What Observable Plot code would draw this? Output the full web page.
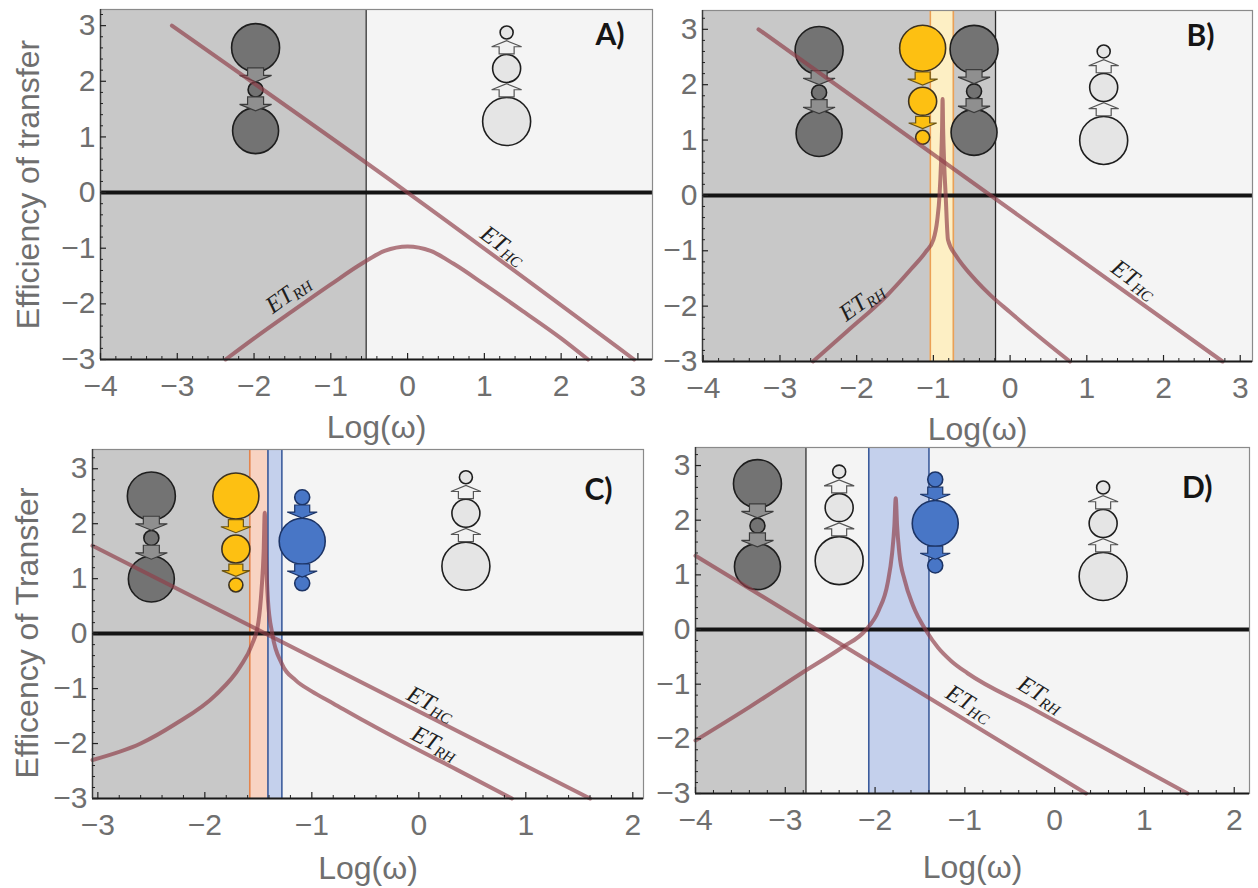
<!DOCTYPE html>
<html><head><meta charset="utf-8">
<script src="https://cdn.jsdelivr.net/npm/d3@7"></script>
<script src="https://cdn.jsdelivr.net/npm/@observablehq/plot@0.6"></script>
<style>
body{margin:0;background:#fff}
#wrap{position:relative;width:1258px;height:888px;overflow:hidden;background:#fff}
#wrap svg{position:absolute;overflow:visible}
</style>
</head><body><div id="wrap"></div>
<script>
// ---------- tick labels ----------
const xTicksAB = [-4, -3, -2, -1, 0, 1, 2, 3];
const xTicksC = [-3, -2, -1, 0, 1, 2];
const xTicksD = [-4, -3, -2, -1, 0, 1, 2];
const yTicks = [-3, -2, -1, 0, 1, 2, 3];
const panelLabels = ["A)", "B)", "C)", "D)"];
const yTitles = ["Efficiency of transfer", "", "Efficency of Transfer", ""];
const xTitle = "Log(\u03c9)";

// ---------- curves ----------
const aHC_x = [-3.07, 0.0, 2.95];
const aHC_y = [3.0, 0.0, -3.0];
const aRH_x = [-2.37, -2.0, -1.5, -1.0, -0.6, -0.3, 0.0, 0.3, 0.6, 1.0, 1.5, 2.0, 2.35];
const aRH_y = [-3.0, -2.62, -2.13, -1.65, -1.28, -1.05, -0.97, -1.05, -1.28, -1.65, -2.13, -2.62, -3.0];

const bHC_x = [-3.28, 2.77];
const bHC_y = [3.0, -3.0];
const bRH_x = [-2.57, -2.12, -1.6, -1.29, -1.1, -1.0, -0.95, -0.92, -0.9, -0.887, -0.88, -0.873, -0.86, -0.84, -0.81, -0.7, -0.6, -0.45, -0.25, 0.0, 0.28, 0.78];
const bRH_y = [-3.0, -2.45, -1.8, -1.33, -1.02, -0.8, -0.45, 0.0, 0.6, 1.2, 1.74, 1.2, 0.6, 0.0, -0.8, -1.1, -1.29, -1.53, -1.81, -2.11, -2.44, -3.0];

const cHC_x = [-3.05, 1.6];
const cHC_y = [1.6, -3.0];
const cRH_x = [-3.05, -2.6, -2.28, -1.9, -1.67, -1.56, -1.5, -1.47, -1.45, -1.44, -1.43, -1.41, -1.37, -1.28, -1.15, -1.0, -0.8, -0.5, -0.07, 0.35, 0.87];
const cRH_y = [-2.3, -2.0, -1.65, -1.12, -0.6, -0.2, 0.2, 0.8, 1.5, 2.2, 1.5, 0.6, 0.0, -0.55, -0.85, -1.05, -1.27, -1.6, -2.05, -2.47, -3.0];

const dHC_x = [-4.0, 0.35];
const dHC_y = [1.35, -3.0];
const dRH_x = [-4.0, -3.4, -2.82, -2.36, -2.11, -1.96, -1.86, -1.81, -1.785, -1.77, -1.755, -1.73, -1.67, -1.58, -1.42, -1.3, -1.15, -0.97, -0.29, 0.61, 1.48];
const dRH_y = [-2.03, -1.42, -0.8, -0.32, -0.02, 0.35, 0.85, 1.4, 1.9, 2.4, 1.9, 1.4, 0.9, 0.45, -0.05, -0.33, -0.58, -0.8, -1.41, -2.22, -3.0];

// ---------- regions & bands ----------
const grayLimit = [-0.54, -0.19, -1.58, -2.77];     // end of dark region per panel
const bandPanel = ["B", "C", "C", "D"];
const bandLo = [-1.04, -1.58, -1.41, -2.07];
const bandHi = [-0.74, -1.41, -1.28, -1.40];
const bandKind = ["yellow", "orange", "blue", "blue"];

// ---------- icons ----------
const iconPanel = ["A", "A", "B", "B", "B", "B", "C", "C", "C", "C", "D", "D", "D", "D"];
const iconType = ["dark", "light", "dark", "yellow", "dark", "light", "dark", "yellow", "blue", "light", "dark", "light", "blue", "light"];
const iconX = [-1.98, 1.29, -2.49, -1.14, -0.47, 1.22, -2.5, -1.71, -1.09, 0.44, -3.31, -2.4, -1.33, 0.54];
const iconY = [1.85, 2.23, 1.86, 1.70, 1.88, 1.95, 1.74, 1.54, 1.68, 2.19, 1.90, 2.23, 1.94, 1.94];

// ---------- ET labels ----------
const etPanel = ["A", "A", "B", "B", "C", "C", "D", "D"];
const etSub = ["RH", "HC", "RH", "HC", "HC", "RH", "RH", "HC"];
const etX = [-1.52, 1.28, -1.9, 1.65, 0.14, 0.18, -0.12, -0.92];
const etY = [-1.78, -0.98, -1.88, -1.55, -1.3, -2.02, -1.22, -1.38];
const etDir = [-1, 1, -1, 1, 1, 1, 1, 1];

// ================= drawing =================
const zip = (xs, ys) => xs.map((x, i) => ({x, y: ys[i]}));
const curves = {
  A: [zip(aHC_x, aHC_y), zip(aRH_x, aRH_y)],
  B: [zip(bHC_x, bHC_y), zip(bRH_x, bRH_y)],
  C: [zip(cHC_x, cHC_y), zip(cRH_x, cRH_y)],
  D: [zip(dHC_x, dHC_y), zip(dRH_x, dRH_y)]
};

const layout = {
  A: {left: 0, top: 0, width: 660, height: 445, ml: 100, mr: 8, mt: 9, mb: 86, xd: [-4, 3.19], yd: [-3, 3.29], xt: xTicksAB, titleDx: -72, titleDy: 0, logDy: 68, labDx: -28, labDy: 26, divider: true},
  B: {left: 640, top: 0, width: 618, height: 445, ml: 62, mr: 6, mt: 10, mb: 84, xd: [-4.01, 3.16], yd: [-3, 3.34], xt: xTicksAB, titleDx: 0, titleDy: 0, logDy: 68, labDx: -38, labDy: 26, divider: true},
  C: {left: 0, top: 445, width: 650, height: 443, ml: 92, mr: 7, mt: 4, mb: 90, xd: [-3.05, 2.10], yd: [-3, 3.35], xt: xTicksC, titleDx: -65, titleDy: 9, logDy: 70, labDx: -31, labDy: 41, divider: false},
  D: {left: 650, top: 445, width: 608, height: 443, ml: 45, mr: 9, mt: 2, mb: 95, xd: [-4.0, 2.17], yd: [-3, 3.33], xt: xTicksD, titleDx: 0, titleDy: 0, logDy: 74, labDx: -37, labDy: 41, divider: true}
};

const bandFill = {yellow: "#fdefc4", orange: "#f8d3c2", blue: "#c4d0ec"};
const bandEdge = {yellow: "#eba055", orange: "#e4844c", blue: "#3b5b9c"};
const iconStyle = {
  dark:   {fill: "#737373", stroke: "#1e1e1e", afill: "#8f8f8f", astroke: "#3c3c3c"},
  light:  {fill: "#e5e5e5", stroke: "#1e1e1e", afill: "#f1f1f1", astroke: "#555"},
  yellow: {fill: "#fdc012", stroke: "#3d3220", afill: "#fdc012", astroke: "#6b5415"},
  blue:   {fill: "#4876c6", stroke: "#1c3466", afill: "#4876c6", astroke: "#1c3466"}
};
const templates = {
  dark:   [{dy: -42, r: 24, s: "c"}, {dy: 0, r: 7.5, s: "c"}, {dy: 41, r: 23, s: "c"}, {dy: -15, r: 16, s: "d"}, {dy: 14, r: 16, s: "d"}],
  light:  [{dy: -36, r: 6.5, s: "c"}, {dy: 0, r: 14, s: "c"}, {dy: 53, r: 24, s: "c"}, {dy: -21, r: 15, s: "u"}, {dy: 22, r: 15, s: "u"}],
  yellow: [{dy: -53, r: 23, s: "c"}, {dy: 0, r: 14, s: "c"}, {dy: 36, r: 7, s: "c"}, {dy: -23, r: 15, s: "d"}, {dy: 21, r: 14, s: "d"}],
  blue:   [{dy: -44, r: 7.5, s: "c"}, {dy: 0, r: 23, s: "c"}, {dy: 42, r: 7.5, s: "c"}, {dy: -30, r: 15, s: "d"}, {dy: 29, r: 15, s: "d"}]
};
function arrowSymbol(dir) {
  return {
    draw(ctx, size) {
      const r = Math.sqrt(size / Math.PI);
      const k = dir; // 1 down, -1 up
      ctx.moveTo(-0.5 * r, -0.42 * r * k);
      ctx.lineTo(0.5 * r, -0.42 * r * k);
      ctx.lineTo(0.5 * r, 0.05 * r * k);
      ctx.lineTo(r, 0.05 * r * k);
      ctx.lineTo(0, 0.45 * r * k);
      ctx.lineTo(-r, 0.05 * r * k);
      ctx.lineTo(-0.5 * r, 0.05 * r * k);
      ctx.closePath();
    }
  };
}
const downArrow = arrowSymbol(1), upArrow = arrowSymbol(-1);
const fmt = d => d < 0 ? "\u2212" + Math.abs(d) : String(d);

const wrap = document.getElementById("wrap");
["A", "B", "C", "D"].forEach((id, pi) => {
  const L = layout[id];
  const [x0, x1] = L.xd, [y0, y1] = L.yd;
  const kX = (L.width - L.ml - L.mr) / (x1 - x0);
  const kY = (L.height - L.mt - L.mb) / (y1 - y0);
  const marks = [];
  // background regions
  marks.push(Plot.rect([{a: x0, b: grayLimit[pi]}], {x1: "a", x2: "b", y1: () => y0, y2: () => y1, fill: "#c8c8c8"}));
  marks.push(Plot.rect([{a: grayLimit[pi], b: x1}], {x1: "a", x2: "b", y1: () => y0, y2: () => y1, fill: "#f4f4f4"}));
  // bands
  bandPanel.forEach((p, i) => {
    if (p !== id) return;
    marks.push(Plot.rect([{a: bandLo[i], b: bandHi[i]}], {x1: "a", x2: "b", y1: () => y0, y2: () => y1, fill: bandFill[bandKind[i]]}));
    marks.push(Plot.ruleX([bandLo[i], bandHi[i]], {y1: () => y0, y2: () => y1, stroke: bandEdge[bandKind[i]], strokeWidth: 1.6}));
  });
  if (L.divider) marks.push(Plot.ruleX([grayLimit[pi]], {y1: () => y0, y2: () => y1, stroke: "#2a2a2a", strokeWidth: 1.3}));
  // icons
  const icons = iconPanel.map((p, i) => ({p, t: iconType[i], x: iconX[i], y: iconY[i]})).filter(d => d.p === id);
  ["dark", "light", "yellow", "blue"].forEach(t => {
    const rows = icons.filter(d => d.t === t);
    if (!rows.length) return;
    const st = iconStyle[t];
    templates[t].forEach(part => {
      const isC = part.s === "c";
      marks.push(Plot.dot(rows, {
        x: "x", y: d => d.y - part.dy / kY, r: part.r,
        symbol: isC ? "circle" : (part.s === "d" ? downArrow : upArrow),
        fill: isC ? st.fill : st.afill, stroke: isC ? st.stroke : st.astroke,
        strokeWidth: isC ? 1.6 : 1.2
      }));
    });
  });
  // zero line
  marks.push(Plot.ruleY([0], {x1: () => x0, x2: () => x1, stroke: "#141414", strokeWidth: 4}));
  // curves
  curves[id].forEach(c => marks.push(Plot.line(c, {x: "x", y: "y", stroke: "#8f3f4a", strokeOpacity: 0.68, strokeWidth: 4, curve: "monotone-x"})));
  // ET labels
  const theta = Math.atan(kY / kX);
  etPanel.forEach((p, i) => {
    if (p !== id) return;
    const rot = etDir[i] * theta * 180 / Math.PI;
    const a = etDir[i] * theta;
    const lab = [{x: etX[i], y: etY[i]}];
    marks.push(Plot.text(lab, {x: "x", y: "y", text: () => "ET", rotate: rot, textAnchor: "end", fontSize: 24, fontStyle: "italic", fontFamily: "Liberation Serif, DejaVu Serif, serif", fill: "#1e1e1e"}));
    marks.push(Plot.text(lab, {x: "x", y: "y", text: () => etSub[i], rotate: rot, textAnchor: "start", fontSize: 15.5, fontStyle: "italic", fontFamily: "Liberation Serif, DejaVu Serif, serif", fill: "#1e1e1e", dx: -6 * Math.sin(a), dy: 6 * Math.cos(a)}));
  });
  // panel label
  marks.push(Plot.text([panelLabels[pi]], {text: d => d, frameAnchor: "top-right", textAnchor: "end", lineAnchor: "middle", dx: L.labDx, dy: L.labDy, fontSize: 30, fontWeight: "bold", fontFamily: "Lato, Open Sans, sans-serif", fill: "#151515"}));
  // frame
  marks.push(Plot.frame({stroke: "#8a8a8a", strokeWidth: 1.2}));
  marks.push(Plot.ruleY([y0], {x1: () => x0, x2: () => x1, stroke: "#1a1a1a", strokeWidth: 2}));
  marks.push(Plot.ruleX([x0], {y1: () => y0, y2: () => y1, stroke: "#3a3a3a", strokeWidth: 1.4}));
  // inward ticks
  const minorX = d3.range(Math.ceil(x0 * 5 - 1e-9), Math.floor(x1 * 5 + 1e-9) + 1).map(v => v / 5).filter(v => Math.abs(v - Math.round(v)) > 1e-6);
  const minorY = d3.range(Math.ceil(y0 * 5 - 1e-9), Math.floor(y1 * 5 + 1e-9) + 1).map(v => v / 5).filter(v => Math.abs(v - Math.round(v)) > 1e-6);
  marks.push(Plot.ruleX(L.xt, {y1: () => y0, y2: () => y0 + 6 / kY, stroke: "#222", strokeWidth: 1.2}));
  marks.push(Plot.ruleX(minorX, {y1: () => y0, y2: () => y0 + 3 / kY, stroke: "#222", strokeWidth: 1}));
  marks.push(Plot.ruleY(yTicks, {x1: () => x0, x2: () => x0 + 6 / kX, stroke: "#222", strokeWidth: 1.2}));
  marks.push(Plot.ruleY(minorY, {x1: () => x0, x2: () => x0 + 3 / kX, stroke: "#222", strokeWidth: 1}));
  // axis titles
  marks.push(Plot.text([xTitle], {text: d => d, frameAnchor: "bottom", lineAnchor: "middle", dy: L.logDy, fontSize: 32, fill: "#6f6f6f"}));
  if (yTitles[pi]) marks.push(Plot.text([yTitles[pi]], {text: d => d, frameAnchor: "left", textAnchor: "middle", lineAnchor: "middle", rotate: -90, dx: L.titleDx, dy: L.titleDy, fontSize: 32, fill: "#6f6f6f"}));

  const svg = Plot.plot({
    width: L.width, height: L.height,
    marginLeft: L.ml, marginRight: L.mr, marginTop: L.mt, marginBottom: L.mb,
    x: {domain: L.xd, ticks: L.xt, tickSize: 0, tickPadding: 15, tickFormat: fmt, label: null},
    y: {domain: L.yd, ticks: yTicks, tickSize: 0, tickPadding: 5, tickFormat: fmt, label: null},
    style: {fontFamily: "Liberation Sans, Arial, sans-serif", fontSize: "30px", color: "#6f6f6f", background: "transparent", overflow: "visible"},
    marks
  });
  svg.style.left = L.left + "px";
  svg.style.top = L.top + "px";
  wrap.appendChild(svg);
});
</script>
</body></html>
